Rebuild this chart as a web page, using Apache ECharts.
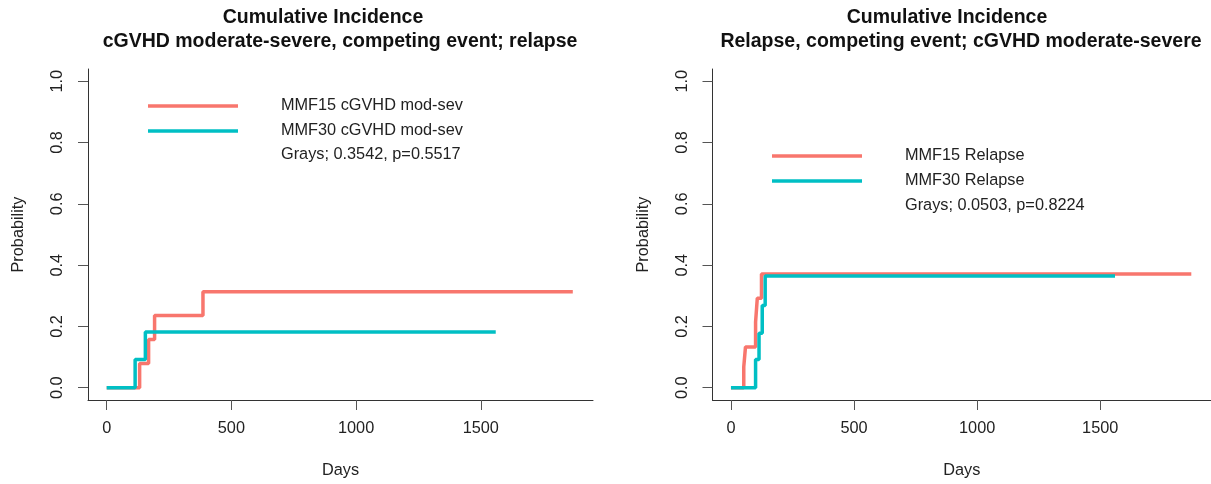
<!DOCTYPE html>
<html>
<head>
<meta charset="utf-8">
<script src="https://cdn.jsdelivr.net/npm/echarts@6/dist/echarts.min.js"></script>
<style>
html,body{margin:0;padding:0;background:#fff;}
#chart{width:1211px;height:484px;}
</style>
</head>
<body>
<div id="chart"></div>
<script>
// ---- data (days, cumulative incidence) ----
const gvhdMMF15Days = [0, 132, 168, 192, 386, 1869];
const gvhdMMF15Prob = [0, 0.079, 0.157, 0.236, 0.313, 0.313];
const gvhdMMF30Days = [0, 114, 155, 1560];
const gvhdMMF30Prob = [0, 0.092, 0.182, 0.182];

const relMMF15Days = [0, 52, 59, 100, 107, 124, 1870];
const relMMF15Prob = [0, 0.068, 0.133, 0.214, 0.292, 0.371, 0.371];
const relMMF30Days = [0, 100, 114, 127, 139, 1560];
const relMMF30Prob = [0, 0.092, 0.178, 0.268, 0.365, 0.365];

const xTicks = [0, 500, 1000, 1500];
const yTicks = [0, 0.2, 0.4, 0.6, 0.8, 1.0];

const leftTitle = ['Cumulative Incidence', 'cGVHD moderate-severe, competing event; relapse'];
const rightTitle = ['Cumulative Incidence', 'Relapse, competing event; cGVHD moderate-severe'];
const leftNames = ['MMF15 cGVHD mod-sev', 'MMF30 cGVHD mod-sev'];
const rightNames = ['MMF15 Relapse', 'MMF30 Relapse'];
const leftStat = 'Grays; 0.3542, p=0.5517';
const rightStat = 'Grays; 0.0503, p=0.8224';

const RED = '#F8766D', TEAL = '#00BFC4';
const FONT = '"Liberation Sans", Arial, Helvetica, sans-serif';
const FS = 16.3;

function zip(xs, ys){ return xs.map((x,i)=>[x, ys[i]]); }

function xAxisFor(gi){
  return {
    type:'value', gridIndex:gi, min:-75, max:1950,
    axisLine:{show:true, onZero:false, lineStyle:{color:'#333', width:1}},
    axisTick:{show:true, length:10, customValues:xTicks, lineStyle:{color:'#555'}},
    axisLabel:{customValues:xTicks, margin:21, fontSize:FS, color:'#222', fontFamily:FONT,
      formatter:v=>String(v)},
    splitLine:{show:false},
    name:'Days', nameLocation:'middle', nameGap:63,
    nameTextStyle:{fontSize:FS, color:'#222', fontFamily:FONT}
  };
}
function yAxisFor(gi){
  return {
    type:'value', gridIndex:gi, min:-0.04, max:1.04,
    axisLine:{show:true, onZero:false, lineStyle:{color:'#333', width:1}},
    axisTick:{show:true, length:10, customValues:yTicks, lineStyle:{color:'#555'}},
    axisLabel:{customValues:yTicks, margin:22, rotate:90, fontSize:FS, color:'#222', fontFamily:FONT,
      formatter:v=>v.toFixed(1)},
    splitLine:{show:false},
    name:'Probability', nameLocation:'middle', nameGap:61, nameRotate:90,
    nameTextStyle:{fontSize:FS, color:'#222', fontFamily:FONT}
  };
}
function stepSeries(name, days, prob, color, gi){
  return {
    name, type:'line', step:'end', xAxisIndex:gi, yAxisIndex:gi,
    data:zip(days, prob), showSymbol:false, symbol:'none', animation:false,
    lineStyle:{color, width:3.5}, itemStyle:{color}
  };
}
function legendFor(names, left, top){
  return {
    orient:'vertical', left, top, padding:0, icon:'rect', itemWidth:90, itemHeight:3.5,
    itemGap:7, data:names, selectedMode:false,
    textStyle:{fontSize:FS, lineHeight:18, color:'#222', fontFamily:FONT, padding:[0,0,0,38]}
  };
}
function titleText(text, x, y){
  return {type:'text', x, y, style:{text, fill:'#111', font:'bold 19.5px '+FONT, textAlign:'center', textVerticalAlign:'middle'}};
}
function plainText(text, x, y){
  return {type:'text', x, y, style:{text, fill:'#222', font:FS+'px '+FONT, textAlign:'left', textVerticalAlign:'middle'}};
}

const chart = echarts.init(document.getElementById('chart'), null, {renderer:'canvas'});
chart.setOption({
  animation:false,
  backgroundColor:'#fff',
  grid:[
    {left:88, top:69, width:505, height:333},
    {left:712.5, top:69, width:505, height:333}
  ],
  xAxis:[xAxisFor(0), xAxisFor(1)],
  yAxis:[yAxisFor(0), yAxisFor(1)],
  legend:[legendFor(leftNames, 148, 97), legendFor(rightNames, 772, 147)],
  series:[
    stepSeries(leftNames[0], gvhdMMF15Days, gvhdMMF15Prob, RED, 0),
    stepSeries(leftNames[1], gvhdMMF30Days, gvhdMMF30Prob, TEAL, 0),
    stepSeries(rightNames[0], relMMF15Days, relMMF15Prob, RED, 1),
    stepSeries(rightNames[1], relMMF30Days, relMMF30Prob, TEAL, 1)
  ],
  graphic:[
    titleText(leftTitle[0], 323, 18),
    titleText(leftTitle[1], 340, 42),
    titleText(rightTitle[0], 947, 18),
    titleText(rightTitle[1], 961, 42),
    plainText(leftStat, 281, 155),
    plainText(rightStat, 905, 206)
  ]
});
</script>
</body>
</html>
